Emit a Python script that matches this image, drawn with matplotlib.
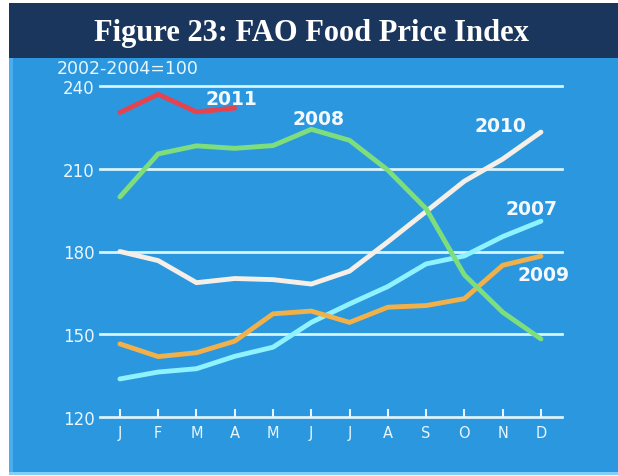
import matplotlib.pyplot as plt
from matplotlib.patches import Rectangle

# FAO Food Price Index (2002-2004=100), monthly
months = ['J', 'F', 'M', 'A', 'M', 'J', 'J', 'A', 'S', 'O', 'N', 'D']
y2007 = [133.8, 136.3, 137.5, 142.0, 145.3, 154.3, 161.0, 167.3, 175.5, 178.4, 185.4, 191.0]
y2008 = [199.8, 215.4, 218.3, 217.4, 218.4, 224.3, 220.3, 209.5, 195.5, 171.5, 158.0, 148.3]
y2009 = [146.5, 141.9, 143.3, 147.5, 157.4, 158.4, 154.3, 159.8, 160.4, 162.9, 175.0, 178.3]
y2010 = [180.0, 176.7, 168.7, 170.2, 169.8, 168.2, 172.9, 183.5, 194.5, 205.5, 213.5, 223.3]
y2011 = [230.4, 237.0, 230.6, 232.0]
yticks = [120, 150, 180, 210, 240]

W, H = 618, 477
fig = plt.figure(figsize=(W / 100, H / 100), dpi=100)
fig.patch.set_facecolor('white')

def px(x, y, w, h):
    # pixel box (top-left origin) -> figure fraction
    return (x / W, 1 - (y + h) / H, w / W, h / H)

def box(x, y, w, h, color):
    bx, by, bw, bh = px(x, y, w, h)
    fig.patches.append(Rectangle((bx, by), bw, bh, transform=fig.transFigure,
                                 facecolor=color, edgecolor='none', zorder=-5))

# background panels
box(9, 59, 609, 416, '#2a97df')
box(9, 59, 4, 416, '#48aef0')
box(9, 473, 609, 3, '#7fd0f8')
box(9, 4, 609, 55, '#1a365d')
fig.text(311 / W, 1 - 33 / H, 'Figure 23: FAO Food Price Index', ha='center', va='center',
         color='white', fontsize=22, fontweight='bold', family='Liberation Serif')

ax = fig.add_axes(px(100, 87, 462, 331))
ax.set_zorder(2)
ax.set_facecolor('none')
ax.set_xlim(-0.52, 11.55)
ax.set_ylim(120, 240)
for s in ax.spines.values():
    s.set_visible(False)

for v in yticks:
    ax.axhline(v, color='#d8f4ff', lw=2.0, zorder=1, clip_on=False)

ax.set_yticks(yticks)
ax.set_yticklabels([str(v) for v in yticks], color='#e8f6ff', fontsize=12)
ax.tick_params(axis='y', length=0, pad=4)
x = list(range(12))
ax.set_xticks(x)
ax.set_xticklabels(months, color='#e8f6ff', fontsize=10.5)
ax.tick_params(axis='x', direction='in', length=6, width=1.5, color='#e8f6ff', pad=6)

lw = 3.5
ax.plot(x, y2007, color='#8ff2ff', lw=lw, solid_capstyle='round', zorder=3, clip_on=False)
ax.plot(x, y2009, color='#f0b04a', lw=lw, solid_capstyle='round', zorder=3, clip_on=False)
ax.plot(x, y2010, color='#f6efe8', lw=lw, solid_capstyle='round', zorder=3, clip_on=False)
ax.plot(x, y2008, color='#7ede7c', lw=lw, solid_capstyle='round', zorder=4, clip_on=False)
ax.plot(x[:len(y2011)], y2011, color='#e4434f', lw=lw, solid_capstyle='round', zorder=4, clip_on=False)

lab = dict(color='#f4f8ff', fontsize=13.5, fontweight='bold', ha='center', va='center')
ax.text(2.9, 235.6, '2011', **lab)
ax.text(5.2, 228.3, '2008', **lab)
ax.text(9.93, 225.5, '2010', **lab)
ax.text(10.75, 195.6, '2007', **lab)
ax.text(11.07, 171.5, '2009', **lab)
ax.text(-1.65, 246.6, '2002-2004=100', color='#e8f6ff', fontsize=12.5, ha='left', va='center')

fig.savefig('out.png', dpi=100, facecolor=fig.get_facecolor())
